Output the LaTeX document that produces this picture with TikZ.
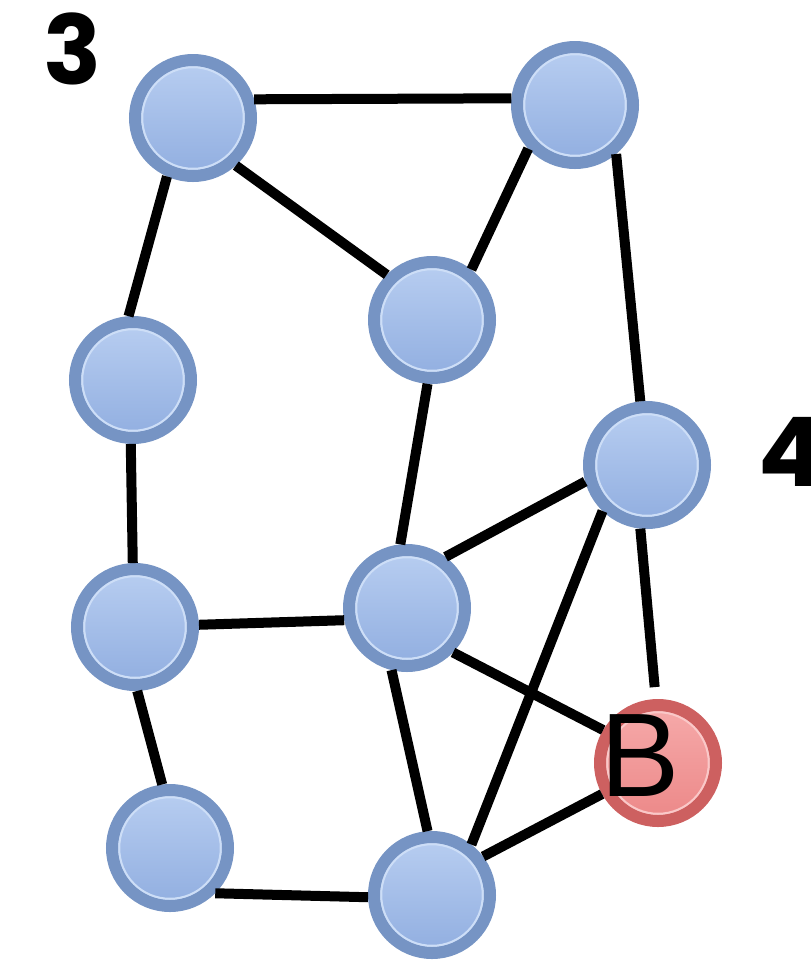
\documentclass[tikz,border=0pt]{standalone}
\usepackage{fontspec}
\newfontfamily\popfont{Poppins}
\newfontfamily\arialfont{Liberation Sans}
\definecolor{bborder}{RGB}{118,148,196}
\definecolor{btop}{RGB}{184,206,241}
\definecolor{bbot}{RGB}{145,174,224}
\definecolor{bring}{RGB}{205,222,247}
\definecolor{rborder}{RGB}{205,96,96}
\definecolor{rtop}{RGB}{246,170,170}
\definecolor{rbot}{RGB}{236,136,136}
\definecolor{rring}{RGB}{250,200,200}
\tikzset{
  bluenode/.style={circle, minimum size=116pt, inner sep=0pt, line width=12pt,
    draw=bborder, top color=btop, bottom color=bbot,
    path picture={\draw[bring, line width=2.5pt] (path picture bounding box.center) circle (51pt);}},
  rednode/.style={circle, minimum size=116pt, inner sep=0pt, line width=12pt,
    draw=rborder, top color=rtop, bottom color=rbot,
    path picture={\draw[rring, line width=2.5pt] (path picture bounding box.center) circle (51pt);}},
  edge/.style={draw=black, line width=10pt},
  numlabel/.style={inner sep=0pt, font=\popfont\bfseries\fontsize{96}{96}\selectfont},
  blabel/.style={inner sep=0pt, font=\arialfont\fontsize{119}{119}\selectfont}
}
\begin{document}
\begin{tikzpicture}[x=1pt, y=-1pt]
\useasboundingbox (0,0) rectangle (811,962);
\clip (0,0) rectangle (811,962);
\fill[white] (0,0) rectangle (811,962);
\node[bluenode] (n1) at (193,118) {};
\node[bluenode] (n2) at (575,105) {};
\node[bluenode] (n3) at (432,320) {};
\node[bluenode] (n4) at (133,380) {};
\node[bluenode] (n5) at (647,465) {};
\node[bluenode] (n6) at (135,627) {};
\node[bluenode] (n7) at (407,608) {};
\node[rednode] (b) at (658,763) {};
\node[bluenode] (n9) at (170,848) {};
\node[bluenode] (n10) at (432,895) {};
\node[blabel] (bl) at (640,756) {B};
\node[numlabel] (l3) at (73,49) {3};
\node[numlabel, anchor=west] (l4) at (758,452) {4};
\draw[edge] (n1.17) -- (n2.174);
\draw[edge] (n1.-48) -- (n3.135);
\draw[edge] (n1.246) -- (n4.94);
\draw[edge] (n2.223) -- (n3.52);
\draw[edge] (n2.-50) -- (n5.96);
\draw[edge] (n3.266) -- (n7.96);
\draw[edge] (n4.268) -- (n6.92);
\draw[edge] (n6.2) -- (n7.191);
\draw[edge] (n6.272) -- (n9.97);
\draw[edge] (n9.-45) -- (n10.182);
\draw[edge] (n7.53) -- (n5.195);
\draw[edge] (n7.-44) -- (b.149);
\draw[edge] (n7.256) -- (n10.94);
\draw[edge] (n5.226) -- (n10.52);
\draw[edge, shorten >=12pt] (n5.264) -- (b.92);
\draw[edge] (b.209) -- (n10.37);
\end{tikzpicture}
\end{document}
